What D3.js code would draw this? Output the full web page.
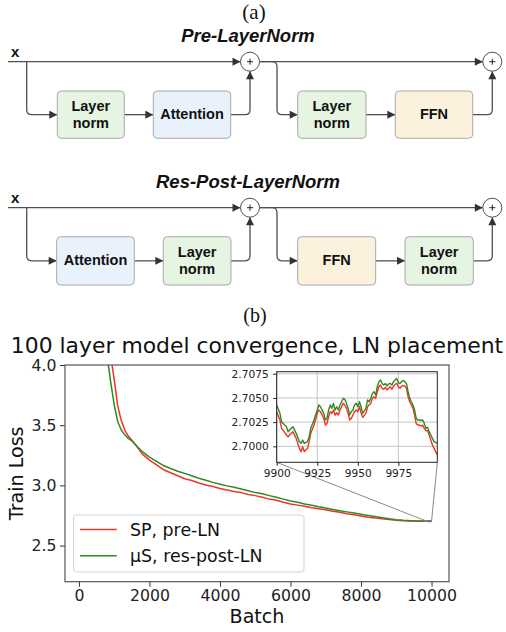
<!DOCTYPE html>
<html>
<head>
<meta charset="utf-8">
<script src="https://cdn.jsdelivr.net/npm/d3@7"></script>
<style>
  html, body { margin: 0; padding: 0; background: #fff; }
  svg { display: block; }
</style>
</head>
<body>
<script>
// ---------------- DATA ----------------
const seriesNames = ["SP, pre-LN", "μS, res-post-LN"];
const xTicks = [0, 2000, 4000, 6000, 8000, 10000];
const yTicks = [2.5, 3.0, 3.5, 4.0];
const insetXTicks = [9900, 9925, 9950, 9975];
const insetYTicks = [2.7000, 2.7025, 2.7050, 2.7075];

const mainBatch = [100, 300, 500, 700, 800, 900, 1000, 1100, 1200, 1300, 1400, 1500, 1600, 1800, 2000,
  2200, 2400, 2600, 2800, 3000, 3200, 3400, 3600, 3800, 4000, 4200, 4400, 4600, 4800, 5000,
  5200, 5400, 5600, 5800, 6000, 6200, 6400, 6600, 6800, 7000, 7200, 7400, 7600, 7800, 8000,
  8200, 8400, 8600, 8800, 9000, 9200, 9400, 9600, 9800];
const spMain = [7.5, 5.8, 4.95, 4.45, 4.25, 4.08, 3.88, 3.66, 3.54, 3.46, 3.41, 3.375, 3.34, 3.26, 3.21,
  3.17, 3.13, 3.105, 3.08, 3.055, 3.04, 3.02, 3.003, 2.99, 2.975, 2.962, 2.95, 2.94, 2.925, 2.915,
  2.902, 2.886, 2.876, 2.86, 2.846, 2.836, 2.826, 2.815, 2.806, 2.797, 2.786, 2.776, 2.765, 2.756, 2.746,
  2.736, 2.73, 2.722, 2.716, 2.71, 2.707, 2.705, 2.703, 2.702];
const musMain = [7.2, 5.5, 4.7, 4.25, 4.07, 3.86, 3.67, 3.53, 3.46, 3.42, 3.39, 3.37, 3.34, 3.28, 3.235,
  3.2, 3.165, 3.14, 3.117, 3.1, 3.08, 3.06, 3.042, 3.025, 3.01, 2.996, 2.985, 2.97, 2.955, 2.94,
  2.93, 2.915, 2.901, 2.886, 2.87, 2.86, 2.846, 2.835, 2.822, 2.812, 2.8, 2.79, 2.78, 2.77, 2.76,
  2.75, 2.741, 2.731, 2.722, 2.715, 2.71, 2.707, 2.705, 2.704];

const insetBatch = [9900, 9902, 9903, 9904, 9906, 9907, 9909, 9910, 9912, 9914,
  9915, 9916, 9917, 9919, 9920, 9921, 9923, 9925, 9926, 9927,
  9928, 9929, 9930, 9931, 9932, 9933, 9934, 9935, 9936, 9937,
  9938, 9939, 9940, 9941, 9942, 9943, 9944, 9945, 9946, 9947,
  9948, 9949, 9950, 9951, 9952, 9953, 9955, 9956, 9957, 9958,
  9959, 9960, 9961, 9962, 9963, 9964, 9965, 9966, 9967, 9968,
  9969, 9970, 9971, 9972, 9973, 9974, 9975, 9976, 9977, 9978,
  9979, 9980, 9981, 9982, 9983, 9984, 9985, 9986, 9987, 9988,
  9989, 9990, 9991, 9992, 9993, 9994, 9995, 9996, 9997, 9999];
const spInset = [2.70358, 2.70272, 2.70186, 2.70168, 2.70117, 2.70099, 2.70134, 2.70151, 2.70082, 2.69979,
  2.69945, 2.69996, 2.69945, 2.69979, 2.70048, 2.70134, 2.70220, 2.70341, 2.70375, 2.70358,
  2.70323, 2.70289, 2.70220, 2.70237, 2.70306, 2.70358, 2.70341, 2.70375, 2.70323, 2.70347,
  2.70323, 2.70375, 2.70409, 2.70444, 2.70427, 2.70392, 2.70341, 2.70272, 2.70289, 2.70323,
  2.70358, 2.70375, 2.70358, 2.70409, 2.70347, 2.70299, 2.70341, 2.70409, 2.70427, 2.70444,
  2.70496, 2.70513, 2.70496, 2.70564, 2.70616, 2.70633, 2.70599, 2.70589, 2.70609, 2.70582,
  2.70599, 2.70616, 2.70589, 2.70623, 2.70640, 2.70650, 2.70616, 2.70599, 2.70623, 2.70630,
  2.70623, 2.70599, 2.70513, 2.70461, 2.70427, 2.70392, 2.70323, 2.70237, 2.70220, 2.70220,
  2.70210, 2.70220, 2.70186, 2.70161, 2.70161, 2.70117, 2.70065, 2.70013, 2.69979, 2.69910];
const musInset = [2.70427, 2.70341, 2.70254, 2.70237, 2.70203, 2.70151, 2.70186, 2.70203, 2.70134, 2.70048,
  2.70031, 2.70065, 2.70031, 2.70048, 2.70099, 2.70186, 2.70272, 2.70375, 2.70427, 2.70409,
  2.70375, 2.70341, 2.70272, 2.70289, 2.70375, 2.70427, 2.70392, 2.70444, 2.70375, 2.70409,
  2.70375, 2.70427, 2.70461, 2.70496, 2.70485, 2.70444, 2.70392, 2.70323, 2.70358, 2.70375,
  2.70427, 2.70444, 2.70409, 2.70461, 2.70409, 2.70341, 2.70392, 2.70478, 2.70461, 2.70496,
  2.70547, 2.70564, 2.70530, 2.70616, 2.70668, 2.70685, 2.70650, 2.70633, 2.70650, 2.70623,
  2.70644, 2.70650, 2.70633, 2.70668, 2.70685, 2.70702, 2.70657, 2.70650, 2.70668, 2.70678,
  2.70668, 2.70650, 2.70564, 2.70496, 2.70461, 2.70427, 2.70375, 2.70289, 2.70272, 2.70272,
  2.70265, 2.70272, 2.70237, 2.70186, 2.70196, 2.70151, 2.70117, 2.70082, 2.70048, 2.70031];

// ---------------- SETUP ----------------
const W = 506, H = 632;
const svg = d3.select("body").append("svg").attr("width", W).attr("height", H)
  .attr("viewBox", `0 0 ${W} ${H}`);

const LINE = "#505050";
const SANS = "'Liberation Sans', Arial, sans-serif";
const SERIF = "'Liberation Serif', 'Times New Roman', serif";
const DJV = "'DejaVu Sans', sans-serif";

const defs = svg.append("defs");
defs.append("marker").attr("id", "arr")
  .attr("markerUnits", "userSpaceOnUse")
  .attr("viewBox", "0 0 10 10").attr("refX", 10).attr("refY", 5)
  .attr("markerWidth", 9).attr("markerHeight", 8).attr("orient", "auto")
  .append("path").attr("d", "M0,0 L10,5 L0,10 z").attr("fill", "#333");

// ---------------- (a) DIAGRAM ----------------
svg.append("text").attr("x", 254).attr("y", 19).attr("text-anchor", "middle")
  .attr("font-family", SERIF).attr("font-size", 21).attr("fill", "#111").text("(a)");

const boxFill = { ln: "#e5f5e1", att: "#e9f1fd", ffn: "#fcf1dd" };
const boxText = { ln: ["Layer", "norm"], att: ["Attention"], ffn: ["FFN"] };

function drawBlock(cfg) {
  const g = svg.append("g");
  const { title, titleY, yMain, by0, by1, boxes } = cfg;
  const yb = (by0 + by1) / 2;
  const R = 9.5, c1 = 250, c2 = 492.3, r = 5;
  g.append("text").attr("x", 248).attr("y", titleY).attr("text-anchor", "middle")
    .attr("font-family", SANS).attr("font-weight", "bold").attr("font-style", "italic")
    .attr("font-size", 18.5).attr("fill", "#111").text(title);
  g.append("text").attr("x", 11).attr("y", yMain - 4.5)
    .attr("font-family", SANS).attr("font-weight", "bold").attr("font-size", 15).attr("fill", "#111").text("x");
  const path = (d, arrow = true) => g.append("path").attr("d", d).attr("fill", "none")
    .attr("stroke", LINE).attr("stroke-width", 1.3).attr("marker-end", arrow ? "url(#arr)" : null);
  // main residual line
  path(`M8,${yMain} H${c1 - R}`);
  path(`M${c1 + R},${yMain} H${c2 - R}`);
  // branch 1
  const xv1 = 26.7, xv2 = 277;
  path(`M${xv1},${yMain} V${yb - r} Q${xv1},${yb} ${xv1 + r},${yb} H${boxes[0][1]}`);
  path(`M${boxes[0][2]},${yb} H${boxes[1][1]}`);
  path(`M${boxes[1][2]},${yb} H${c1 - r} Q${c1},${yb} ${c1},${yb - r} V${yMain + R}`);
  // branch 2
  path(`M${c1 + R},${yMain} H${xv2 - r} Q${xv2},${yMain} ${xv2},${yMain + r} V${yb - r} Q${xv2},${yb} ${xv2 + r},${yb} H${boxes[2][1]}`);
  path(`M${boxes[2][2]},${yb} H${boxes[3][1]}`);
  path(`M${boxes[3][2]},${yb} H${c2 - r} Q${c2},${yb} ${c2},${yb - r} V${yMain + R}`);
  // circles
  [c1, c2].forEach(cx => {
    g.append("circle").attr("cx", cx).attr("cy", yMain).attr("r", R)
      .attr("fill", "#fff").attr("stroke", LINE).attr("stroke-width", 1);
    g.append("path").attr("d", `M${cx - 3},${yMain} H${cx + 3} M${cx},${yMain - 3} V${yMain + 3}`)
      .attr("stroke", "#222").attr("stroke-width", 1);
  });
  // boxes
  boxes.forEach(([kind, x0, x1]) => {
    g.append("rect").attr("x", x0).attr("y", by0).attr("width", x1 - x0).attr("height", by1 - by0)
      .attr("rx", 4).attr("fill", boxFill[kind]).attr("stroke", "#a8a8a8").attr("stroke-width", 1);
    const lines = boxText[kind];
    const cx = (x0 + x1) / 2;
    lines.forEach((t, i) => {
      const yy = lines.length === 1 ? yb + 4 : yb - 3.5 + i * 17;
      g.append("text").attr("x", cx).attr("y", yy).attr("text-anchor", "middle")
        .attr("font-family", SANS).attr("font-weight", "bold").attr("font-size", 14.5)
        .attr("fill", "#111").text(t);
    });
  });
}

drawBlock({
  title: "Pre-LayerNorm", titleY: 42, yMain: 61.7, by0: 91, by1: 138.3,
  boxes: [["ln", 57.3, 124.3], ["att", 153.3, 230.7], ["ln", 297.7, 366], ["ffn", 395.3, 472.7]]
});
drawBlock({
  title: "Res-Post-LayerNorm", titleY: 188.3, yMain: 207.7, by0: 236.7, by1: 285,
  boxes: [["att", 56.7, 134.3], ["ln", 163.3, 231], ["ffn", 297.7, 375.7], ["ln", 405, 473.3]]
});

// ---------------- (b) CHART ----------------
svg.append("text").attr("x", 255).attr("y", 322).attr("text-anchor", "middle")
  .attr("font-family", SERIF).attr("font-size", 20).attr("fill", "#111").text("(b)");

const colors = ["#ee3426", "#2f8a23"];
const L = 65, R = 449, T = 365, B = 581.7;
const x = d3.scaleLinear().domain([-395, 10495]).range([L, R]);
const y = d3.scaleLinear().domain([2.2, 4.0]).range([B, T]);

svg.append("text").attr("x", (L + R) / 2).attr("y", 353.3).attr("text-anchor", "middle")
  .attr("font-family", DJV).attr("font-size", 21.9).attr("fill", "#111")
  .text("100 layer model convergence, LN placement");

defs.append("clipPath").attr("id", "mainclip").append("rect")
  .attr("x", L).attr("y", T).attr("width", R - L).attr("height", B - T);

const spAll = mainBatch.map((b, i) => [b, spMain[i]]).concat(insetBatch.map((b, i) => [b, spInset[i]]));
const musAll = mainBatch.map((b, i) => [b, musMain[i]]).concat(insetBatch.map((b, i) => [b, musInset[i]]));

const mline = d3.line().x(d => x(d[0])).y(d => y(d[1]));
const plot = svg.append("g").attr("clip-path", "url(#mainclip)");
[spAll, musAll].forEach((data, k) => {
  plot.append("path").datum(data).attr("d", mline).attr("fill", "none")
    .attr("stroke", colors[k]).attr("stroke-width", 1.5).attr("stroke-linejoin", "round");
});

// axes
const fontAxis = g => g.selectAll("text").attr("font-family", DJV).attr("font-size", 15.7).attr("fill", "#222");
const xAxis = svg.append("g").attr("transform", `translate(0,${B})`)
  .call(d3.axisBottom(x).tickValues(xTicks).tickFormat(d3.format("d")).tickSize(5).tickPadding(3.5));
const yAxis = svg.append("g").attr("transform", `translate(${L},0)`)
  .call(d3.axisLeft(y).tickValues(yTicks).tickFormat(d3.format(".1f")).tickSize(5).tickPadding(3.5));
[xAxis, yAxis].forEach(a => {
  a.select(".domain").remove();
  a.selectAll(".tick line").attr("stroke", "#333").attr("stroke-width", 1);
  fontAxis(a);
});
svg.append("rect").attr("x", L).attr("y", T).attr("width", R - L).attr("height", B - T)
  .attr("fill", "none").attr("stroke", "#555").attr("stroke-width", 1.2);

svg.append("text").attr("x", (L + R) / 2).attr("y", 623.3).attr("text-anchor", "middle")
  .attr("font-family", DJV).attr("font-size", 19.1).attr("fill", "#111").text("Batch");
svg.append("text").attr("transform", `translate(23,${(T + B) / 2}) rotate(-90)`).attr("text-anchor", "middle")
  .attr("font-family", DJV).attr("font-size", 19.1).attr("fill", "#111").text("Train Loss");

// legend
const lg = svg.append("g");
lg.append("rect").attr("x", 73.5).attr("y", 515).attr("width", 230.5).attr("height", 57)
  .attr("rx", 3).attr("fill", "#fff").attr("fill-opacity", 0.85).attr("stroke", "#d4d4d4").attr("stroke-width", 1);
seriesNames.forEach((name, i) => {
  const yy = 529.5 + i * 26.3;
  lg.append("line").attr("x1", 80).attr("x2", 116.7).attr("y1", yy).attr("y2", yy)
    .attr("stroke", colors[i]).attr("stroke-width", 1.5);
  lg.append("text").attr("x", 130).attr("y", yy + 6.5).attr("font-family", DJV)
    .attr("font-size", 17.4).attr("fill", "#111").text(name);
});

// inset
const iL = 276.7, iR = 437.3, iT = 371.7, iB = 462.3;
const ix = d3.scaleLinear().domain([9900, 9999]).range([iL, iR]);
const iy = d3.scaleLinear().domain([2.69835, 2.70771]).range([iB, iT]);

// zoom marker + connectors
const zx0 = x(9900), zx1 = x(9999), zy0 = y(2.69835), zy1 = y(2.70771);
svg.append("rect").attr("x", zx0).attr("y", zy1).attr("width", zx1 - zx0).attr("height", zy0 - zy1)
  .attr("fill", "none").attr("stroke", "#777").attr("stroke-width", 0.8);
svg.append("line").attr("x1", iL).attr("y1", iB).attr("x2", zx0).attr("y2", zy0)
  .attr("stroke", "#8a8a8a").attr("stroke-width", 1);
svg.append("line").attr("x1", iR).attr("y1", iB).attr("x2", zx1).attr("y2", zy0)
  .attr("stroke", "#8a8a8a").attr("stroke-width", 1);

const ig = svg.append("g");
ig.append("rect").attr("x", iL).attr("y", iT).attr("width", iR - iL).attr("height", iB - iT).attr("fill", "#fff");
insetXTicks.forEach(t => ig.append("line").attr("x1", ix(t)).attr("x2", ix(t)).attr("y1", iT).attr("y2", iB)
  .attr("stroke", "#c4c4c4").attr("stroke-width", 1));
insetYTicks.forEach(t => ig.append("line").attr("x1", iL).attr("x2", iR).attr("y1", iy(t)).attr("y2", iy(t))
  .attr("stroke", "#c4c4c4").attr("stroke-width", 1));
defs.append("clipPath").attr("id", "insetclip").append("rect")
  .attr("x", iL).attr("y", iT).attr("width", iR - iL).attr("height", iB - iT);
const iline = d3.line().x((d, i) => ix(insetBatch[i])).y(d => iy(d));
const ip = ig.append("g").attr("clip-path", "url(#insetclip)");
[spInset, musInset].forEach((data, k) => {
  ip.append("path").datum(data).attr("d", iline).attr("fill", "none")
    .attr("stroke", colors[k]).attr("stroke-width", 1.4).attr("stroke-linejoin", "round");
});
const ixAxis = ig.append("g").attr("transform", `translate(0,${iB})`)
  .call(d3.axisBottom(ix).tickValues(insetXTicks).tickFormat(d3.format("d")).tickSize(3.5).tickPadding(4));
const iyAxis = ig.append("g").attr("transform", `translate(${iL},0)`)
  .call(d3.axisLeft(iy).tickValues(insetYTicks).tickFormat(d3.format(".4f")).tickSize(3.5).tickPadding(4.5));
[ixAxis, iyAxis].forEach(a => {
  a.select(".domain").remove();
  a.selectAll(".tick line").attr("stroke", "#222");
  a.selectAll("text").attr("font-family", DJV).attr("font-size", 10.6).attr("fill", "#222");
});
ig.append("rect").attr("x", iL).attr("y", iT).attr("width", iR - iL).attr("height", iB - iT)
  .attr("fill", "none").attr("stroke", "#222").attr("stroke-width", 1);
</script>
</body>
</html>
